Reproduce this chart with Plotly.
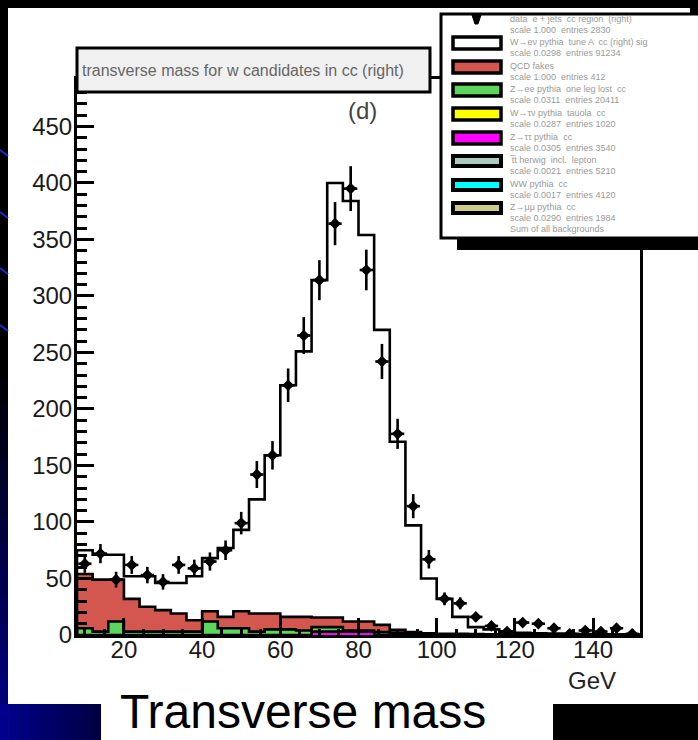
import numpy as np
import plotly.graph_objects as go

# ---- histogram content: 4 GeV bins from 8 to 152 GeV ----
bin_lo = [8, 12, 16, 20, 24, 28, 32, 36, 40, 44, 48, 52, 56, 60, 64, 68, 72, 76,
          80, 84, 88, 92, 96, 100, 104, 108, 112, 116, 120, 124, 128, 132, 136,
          140, 144, 148]
bin_hi_edge = 152
bin_centers = [10, 14, 18, 22, 26, 30, 34, 38, 42, 46, 50, 54, 58, 62, 66, 70, 74,
               78, 82, 86, 90, 94, 98, 102, 106, 110, 114, 118, 122, 126, 130,
               134, 138, 142, 146, 150]

data_counts = [63, 72, 49, 62, 53, 47, 62, 59, 65, 75, 99, 142, 159, 221, 265, 314,
               364, 395, 323, 242, 178, 114, 67, 32, 28, 16, 8, 3, 11, 10, 6, 1,
               4, 3, 6, 1]

total_mc = [75, 71, 71, 52, 52, 46, 46, 52, 68, 77, 93, 120, 159, 221, 251, 314, 400,
            384, 354, 270, 171, 97, 50, 32, 16, 7, 5, 3, 2, 1.5, 1.2, 1, 0.8, 0.6,
            0.5, 0.4]

magenta_counts = [0, 0, 0, 0, 0, 0, 0, 0, 0, 0, 0, 0, 0, 0, 0, 3, 3, 3, 3, 0, 0, 0,
                  0, 0, 0, 0, 0, 0, 0, 0, 0, 0, 0, 0, 0, 0]
green_counts = [6, 3, 12, 3, 3, 3, 3, 3, 12, 6, 6, 3, 5, 5, 4, 4, 4, 1, 1, 2.5, 2, 1,
                0.8, 0.5, 0.5, 0.3, 0.3, 0.2, 0.2, 0.2, 0.1, 0.1, 0.1, 0.1, 0.1, 0.1]
red_counts = [48, 46, 37, 29, 22, 19, 16, 10, 9, 10, 15, 16, 14, 11, 12, 8.5, 8.5, 8,
              8, 6.5, 2.5, 1.5, 0.7, 0.5, 0.5, 0.5, 0.3, 0.3, 0.3, 0.2, 0.2, 0.2,
              0.1, 0.1, 0.1, 0.0]

x_ticks = [20, 40, 60, 80, 100, 120, 140]
y_ticks = [0, 50, 100, 150, 200, 250, 300, 350, 400, 450]

legend_colors = ["#ffffff", "#d4574f", "#5cd65c", "#ffff00", "#ff00ff",
                 "#a9cbbf", "#00ffff", "#cccc88"]
legend_lines = [
    ["data  e + jets  cc region  (right)", "scale 1.000  entries 2830"],
    ["W\u2192e\u03bd pythia  tune A  cc (right) sig", "scale 0.0298  entries 91234"],
    ["QCD fakes", "scale 1.000  entries 412"],
    ["Z\u2192ee pythia  one leg lost  cc", "scale 0.0311  entries 20411"],
    ["W\u2192\u03c4\u03bd pythia  tauola  cc", "scale 0.0287  entries 1020"],
    ["Z\u2192\u03c4\u03c4 pythia  cc", "scale 0.0305  entries 3540"],
    ["t\u0305t herwig  incl.  lepton", "scale 0.0021  entries 5210"],
    ["WW pythia  cc", "scale 0.0017  entries 4120"],
    ["Z\u2192\u03bc\u03bc pythia  cc", "scale 0.0290  entries 1984", "Sum of all backgrounds"],
]


def step(vals):
    xs = [bin_lo[0]] + bin_lo + [bin_hi_edge, bin_hi_edge]
    ys = [0] + list(vals) + [vals[-1], 0]
    return xs, ys


m_cum = np.array(magenta_counts, dtype=float)
g_cum = m_cum + np.array(green_counts, dtype=float)
r_cum = g_cum + np.array(red_counts, dtype=float)

RED, GREEN, MAGENTA = "#d4574f", "#5cd65c", "#ff00ff"
LW = 2.6

fig = go.Figure()

tx, ty = step(total_mc)
fig.add_trace(go.Scatter(x=tx, y=ty, mode="lines", line=dict(color="black", width=LW, shape="hv"),
                         fill="tozeroy", fillcolor="white", hoverinfo="skip"))
mx, my = step(m_cum)
fig.add_trace(go.Scatter(x=mx, y=my, mode="lines", line=dict(color="black", width=LW, shape="hv"),
                         fill="tozeroy", fillcolor=MAGENTA, hoverinfo="skip"))
gx, gy = step(g_cum)
fig.add_trace(go.Scatter(x=gx, y=gy, mode="lines", line=dict(color="black", width=LW, shape="hv"),
                         fill="tonexty", fillcolor=GREEN, hoverinfo="skip"))
rx, ry = step(r_cum)
fig.add_trace(go.Scatter(x=rx, y=ry, mode="lines", line=dict(color="black", width=LW, shape="hv"),
                         fill="tonexty", fillcolor=RED, hoverinfo="skip"))

data_err = np.sqrt(np.array(data_counts, dtype=float))
fig.add_trace(go.Scatter(
    x=bin_centers, y=data_counts, mode="markers",
    marker=dict(symbol="diamond", size=9, color="black"),
    error_y=dict(type="data", array=data_err, width=0, thickness=2.6, color="black"),
    error_x=dict(type="constant", value=1.7, width=0, thickness=2.6, color="black"),
    hoverinfo="skip"))

# ---- page geometry (pixels) ----
W, H = 698, 740
PL, PR, PT, PB = 77, 640, 79, 635


def fx(px):
    return (px - PL) / (PR - PL)


def fy(py):
    return (PB - py) / (PB - PT)


shapes = []


def rect(x0, y0, x1, y1, fill, line_color=None, lw=0, layer="above"):
    shapes.append(dict(type="rect", xref="paper", yref="paper",
                       x0=fx(x0), x1=fx(x1), y0=fy(y1), y1=fy(y0),
                       fillcolor=fill, layer=layer,
                       line=dict(color=line_color or fill, width=lw)))


# slide background: white panel, blue left edge and corner
rect(8, 8, 698, 704, "white", layer="below")
for k in range(12):
    y0 = 380 + k * 27
    shade = int(10 + k * 10)
    rect(0, y0, 8, y0 + 28, "rgb(0,0,%d)" % shade, layer="below")
for k in range(10):
    shade = int(140 - k * 8)
    rect(k * 10.1, 704, (k + 1) * 10.1 + 0.5, 740, "rgb(0,0,%d)" % shade, layer="below")
for yy in (150, 212, 268, 325):
    shapes.append(dict(type="line", xref="paper", yref="paper", layer="below",
                       x0=fx(0), x1=fx(8), y0=fy(yy), y1=fy(yy + 6),
                       line=dict(color="#1a2ad0", width=2)))

# title box
rect(77, 48, 430, 92, "#f0f0f0", "black", 3)

# legend box with drop shadow
rect(457, 238, 712, 250, "black")
rect(690, 0, 712, 250, "black")
rect(441, 14, 712, 238, "white", "black", 3)

sw_rows = [43, 67, 90, 114, 138, 161, 185, 208]
for yc, col, k in zip(sw_rows, legend_colors, range(8)):
    h = 6 if k < 5 else 5
    rect(453, yc - h, 501, yc + h, col, "black", 3.5 if k < 5 else 4)

# legend data marker
shapes.append(dict(type="path", xref="paper", yref="paper", layer="above",
                   path="M %f,%f L %f,%f L %f,%f L %f,%f Z" % (
                       fx(472), fy(15), fx(481), fy(15), fx(478), fy(24), fx(475), fy(24)),
                   fillcolor="black", line=dict(color="black", width=1)))

# bottom caption box
rect(101, 690, 553, 740, "white")

annotations = []
annotations.append(dict(xref="paper", yref="paper", x=fx(80), y=fy(70), xanchor="left",
                        yanchor="middle", showarrow=False,
                        text="transverse mass for w candidates in cc (right)",
                        font=dict(family="Liberation Sans", size=16, color="#666666")))
annotations.append(dict(xref="paper", yref="paper", x=fx(362), y=fy(111), xanchor="center",
                        yanchor="middle", showarrow=False, text="(d)",
                        font=dict(family="Liberation Sans", size=24, color="#444444")))
annotations.append(dict(xref="paper", yref="paper", x=fx(592), y=fy(680), xanchor="center",
                        yanchor="middle", showarrow=False, text="GeV",
                        font=dict(family="Liberation Sans", size=24, color="#222222")))
annotations.append(dict(xref="paper", yref="paper", x=fx(118), y=fy(711), xanchor="left",
                        yanchor="middle", showarrow=False, text="Transverse mass",
                        font=dict(family="Liberation Sans", size=48, color="black")))

text_rows = [22, 45, 69, 92, 116, 140, 163, 187, 210]
for yc, lines in zip(text_rows, legend_lines):
    for j, t in enumerate(lines):
        annotations.append(dict(xref="paper", yref="paper", x=fx(508), y=fy(yc - 3 + j * 11),
                                xanchor="left", yanchor="middle", showarrow=False, text=t,
                                font=dict(family="Liberation Sans", size=9, color="#9a9a9a")))

axis_common = dict(showline=True, linecolor="black", linewidth=3, mirror=True,
                   ticks="inside", tickcolor="black", tickwidth=3, ticklen=17,
                   showgrid=False, zeroline=False,
                   tickfont=dict(family="Liberation Sans", size=24, color="#1a1a1a"))

fig.update_layout(
    width=W, height=H,
    margin=dict(l=PL, r=W - PR, t=PT, b=H - PB, pad=0),
    paper_bgcolor="black", plot_bgcolor="white",
    showlegend=False,
    xaxis=dict(range=[8, 152], tickvals=x_ticks, ticklabelstandoff=-9,
               minor=dict(dtick=5, tick0=0, ticks="inside", ticklen=6, tickwidth=3,
                          tickcolor="black"),
               **axis_common),
    yaxis=dict(range=[0, 492], tickvals=y_ticks, ticklabelstandoff=-3,
               minor=dict(dtick=10, tick0=0, ticks="inside", ticklen=10, tickwidth=3,
                          tickcolor="black"),
               **axis_common),
    shapes=shapes,
    annotations=annotations,
)

fig.write_html("out.html")
